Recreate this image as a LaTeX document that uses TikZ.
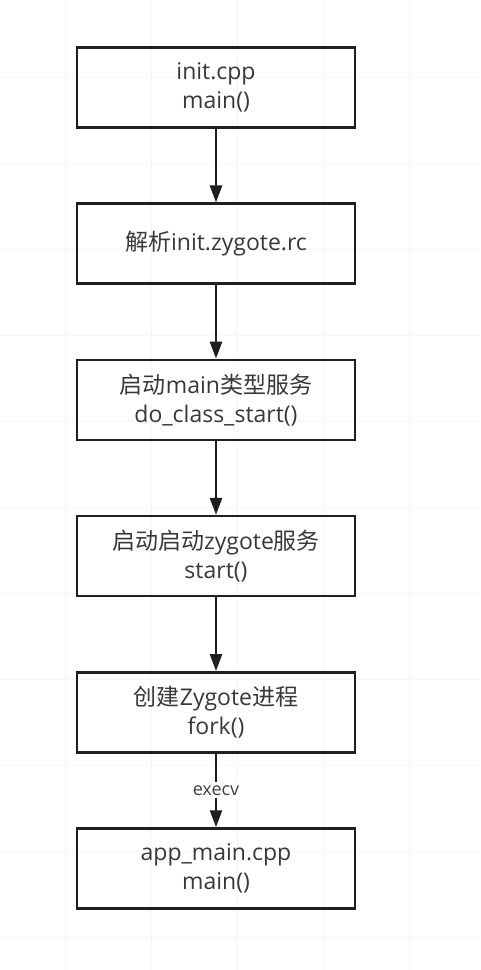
\documentclass[tikz,border=0pt]{standalone}
\usepackage{fontspec}
\setmainfont{Open Sans}
\newfontfamily\zh{Noto Sans CJK SC}
\usetikzlibrary{positioning,arrows.meta}

\tikzset{
  stepbox/.style={draw=black!88, line width=2.5pt, minimum width=278pt,
    minimum height=80pt, align=center, text=black!78,
    font=\fontsize{23}{29.5}\selectfont},
  flow/.style={draw=black!88, line width=2.6pt,
    -{Triangle[width=12pt,length=17pt]}},
  gridline/.style={draw=black!4, line width=0.8pt},
}

\begin{document}
\begin{tikzpicture}[x=1pt,y=-1pt,node distance=73.7pt]
  \useasboundingbox (0,0) rectangle (480,970);
  \fill[white] (0,0) rectangle (480,970);
  % background grid
  \foreach \gx in {65,151,...,480}
    \draw[gridline] (\gx,0) -- (\gx,970);
  \foreach \gy in {77,163,...,970}
    \draw[gridline] (0,\gy) -- (480,\gy);

  \node[stepbox] (init) at (216,87.5) {init.cpp\\main()};
  \node[stepbox, below=of init] (parse) {{\zh 解析}init.zygote.rc};
  \node[stepbox, below=of parse] (classstart) {{\zh 启动}main{\zh 类型服务}\\do\_class\_start()};
  \node[stepbox, below=of classstart] (zygote) {{\zh 启动启动}zygote{\zh 服务}\\start()};
  \node[stepbox, below=of zygote] (fork) {{\zh 创建}Zygote{\zh 进程}\\fork()};
  \node[stepbox, below=of fork] (appmain) {app\_main.cpp\\main()};

  \draw[flow] (init) -- (parse);
  \draw[flow] (parse) -- (classstart);
  \draw[flow] (classstart) -- (zygote);
  \draw[flow] (zygote) -- (fork);
  \draw[flow] (fork) -- node[fill=white, text=black!75, inner sep=3pt,
    font=\fontsize{18}{20}\selectfont] (execv) {execv} (appmain);
\end{tikzpicture}
\end{document}
